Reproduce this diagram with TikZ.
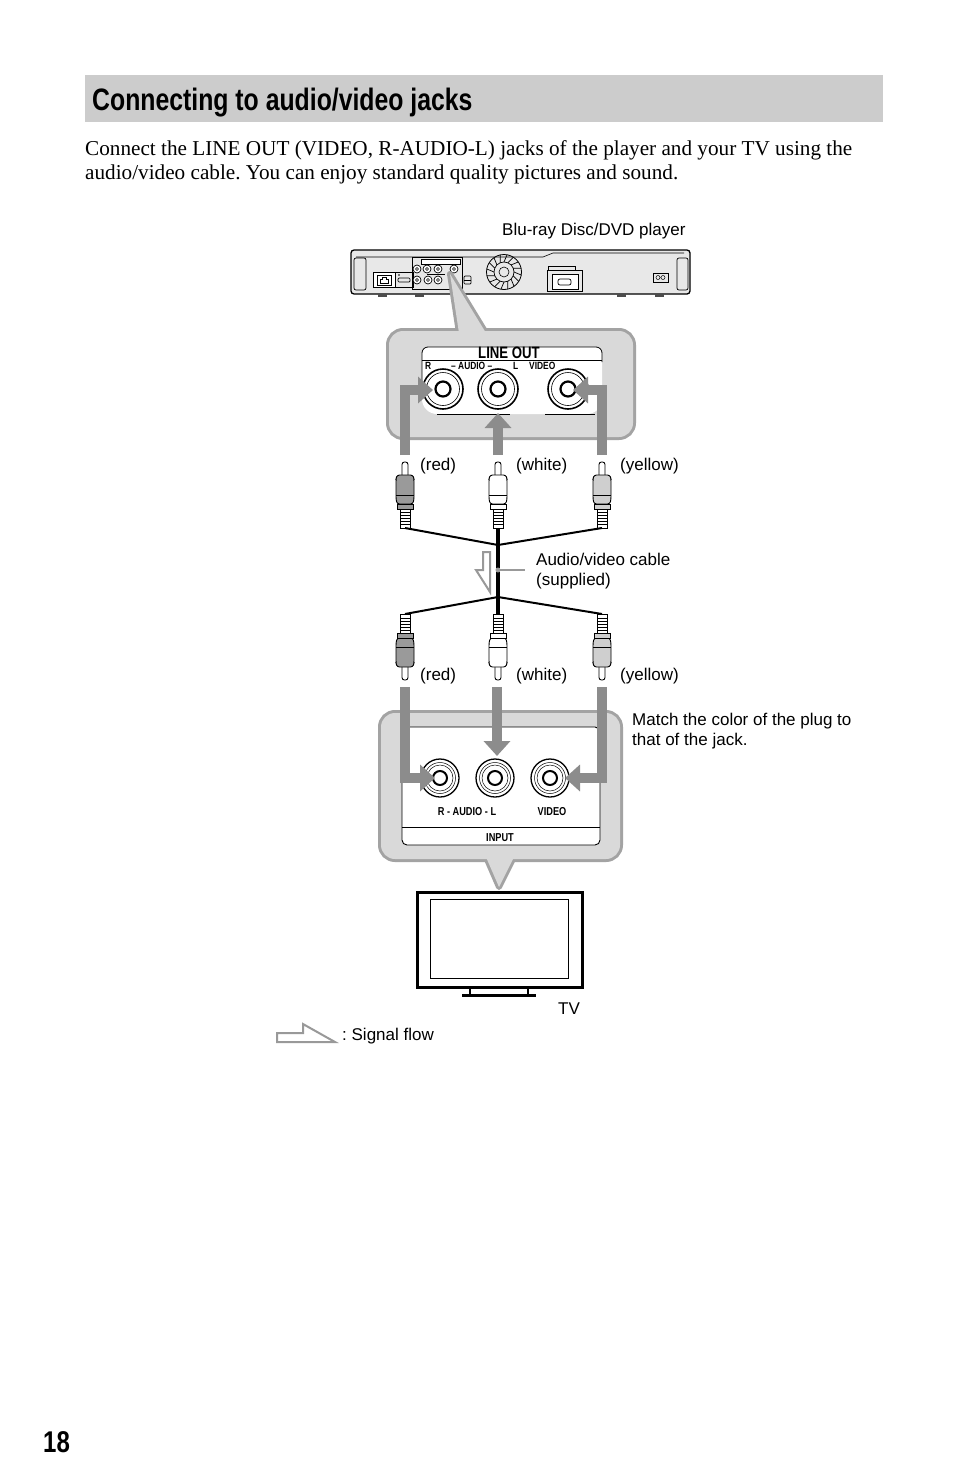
\documentclass[tikz,border=0pt]{standalone}
\usepackage{fontspec}
\setmainfont{Liberation Serif}
\newfontfamily\lab{Liberation Sans}
\newfontfamily\titlefont[FakeStretch=0.8]{Liberation Sans}
\newfontfamily\cond[FakeStretch=0.8]{Liberation Sans}
\usetikzlibrary{arrows.meta}
\definecolor{hdr}{HTML}{CCCCCC}
\definecolor{bubfill}{HTML}{D9D9D9}
\definecolor{bubborder}{HTML}{A3A3A3}
\definecolor{arrowgray}{HTML}{8C8C8C}
\definecolor{sigline}{HTML}{999999}
\definecolor{playerfill}{HTML}{E8E8E8}
\definecolor{redplug}{HTML}{9A9A9A}
\definecolor{yelplug}{HTML}{CFCFCF}
\frenchspacing

\newcommand\rcaplug[4]{%
\begin{scope}[shift={(#1,#2)}, yscale=#4]
 \draw[line width=0.9, fill=white, rounded corners=2.5] (-3,14) -- (-3,0) -- (3,0) -- (3,14);
 \draw[line width=0.9, fill=#3, rounded corners=2.5] (-8,13) -- (8,13) -- (9,17) -- (9,37) -- (8,42) -- (-8,42) -- (-9,37) -- (-9,17) -- cycle;
 \draw[line width=0.6] (-9,33) -- (9,33);
 \draw[line width=0.9, fill=#3] (-8,42) rectangle (8,47);
 \draw[line width=0.9, fill=white] (-5,47) rectangle (5,66);
 \foreach \k in {50,53,...,63} \draw[line width=0.9] (-5,\k) -- (5,\k);
\end{scope}}

\newcommand\outjack[2]{%
 \draw[line width=1.6, fill=white] (#1,#2) circle (20);
 \draw[line width=0.6] (#1,#2) circle (16.5);
 \draw[line width=2.2] (#1,#2) circle (7.5);}

\newcommand\injack[2]{%
 \draw[line width=1.3, fill=white] (#1,#2) circle (19);
 \draw[line width=0.5] (#1,#2) circle (15.5);
 \draw[line width=0.5] (#1,#2) circle (13);
 \draw[line width=2] (#1,#2) circle (7);}

\begin{document}
\begin{tikzpicture}[x=1pt,y=-1pt,
  lbl/.style={anchor=base west, inner sep=0pt, font=\lab\fontsize{17}{20}\selectfont},
  body/.style={anchor=base west, inner sep=0pt, font=\fontsize{21.2}{24}\selectfont},
  panlbl/.style={inner sep=0pt, font=\cond\bfseries\fontsize{11.5}{13}\selectfont},
  smlbl/.style={inner sep=0pt, anchor=base west, font=\cond\bfseries\fontsize{10.5}{12}\selectfont},
  garrow/.style={draw=arrowgray, line width=9.5pt, line join=miter, -{Triangle[width=26pt,length=15pt]}},
  sig/.style={draw=sigline, line width=2pt, fill=white, line join=miter},
  cable/.style={line width=2pt},
  bigcable/.style={line width=4pt}]
\useasboundingbox (0,0) rectangle (954,1483);
\fill[white] (0,0) rectangle (954,1483);

% header
\fill[hdr] (85,75) rectangle (883,122);
\node[anchor=base west, inner sep=0pt, font=\titlefont\bfseries\fontsize{31}{36}\selectfont] (title) at (92,110) {Connecting to audio/video jacks};
\node[body] (p1) at (85,155) {Connect the LINE OUT (VIDEO, R-AUDIO-L) jacks of the player and your TV using the};
\node[body] (p2) at (85,179) {audio/video cable. You can enjoy standard quality pictures and sound.};

% player
\node[lbl] (playerlbl) at (502,235) {Blu-ray Disc/DVD player};
\draw[line width=1.3, fill=playerfill, rounded corners=3] (351,250) rectangle (690,294);
\foreach \fx in {378,415,617,655} \fill[black!70] (\fx,294) rectangle (\fx+9,297);
\draw[line width=0.6] (356,257) -- (543,257) -- (553,253) -- (684,253);
\draw[line width=0.7, rounded corners=2] (354,258) rectangle (366,290);
\draw[line width=0.7, rounded corners=2] (677,258) rectangle (688,290);
% ethernet
\draw[line width=0.8, fill=white] (373,272) rectangle (395,287);
\draw[line width=0.8] (377,275) rectangle (391,285);
\draw[line width=0.7] (380,283) -- (380,279) -- (382,279) -- (382,277) -- (386,277) -- (386,279) -- (388,279) -- (388,283) -- cycle;
% hdmi
\draw[line width=0.8] (395,272) rectangle (413,287);
\draw[line width=0.7, rounded corners=1] (398,278) rectangle (410,282);
\fill (399,275) circle (0.8);
% jack panel
\draw[line width=0.8] (412,257) rectangle (462,289);
\draw[line width=0.6, fill=white] (421,259) rectangle (460,264);
\foreach \jx in {417,427,438,454} {\draw[line width=0.7, fill=white] (\jx,269) circle (4); \draw[line width=0.5] (\jx,269) circle (1.5);}
\foreach \jx in {417,428,438} {\draw[line width=0.7, fill=white] (\jx,280) circle (4); \draw[line width=0.5] (\jx,280) circle (1.5);}
\draw[line width=0.6] (427,274.5) -- (445,274.5);
\draw[line width=0.7, rounded corners=1] (464,276) rectangle (471,284);
\draw[line width=0.5] (464,280) -- (471,280);
% fan
\begin{scope}[shift={(504,272)}]
 \draw[line width=0.8] (0,0) circle (17.5);
 \draw[line width=0.7] (0,0) circle (10);
 \draw[line width=0.6] (0,0) circle (5);
 \foreach \a in {0,22.5,...,340} \draw[line width=0.7] (\a:10) -- (\a+10:17.5);
\end{scope}
% box
\draw[line width=0.7] (548,266) rectangle (575,272);
\draw[line width=0.8, fill=playerfill] (547,270) rectangle (582,291);
\draw[line width=0.7, fill=white] (552,274) rectangle (578,289);
\draw[line width=0.7, rounded corners=2] (558,279) rectangle (571,285);
% right connector
\draw[line width=0.7] (653,273) rectangle (668,282);
\draw[line width=0.5] (658,277.5) circle (2) (663,277.5) circle (2);

% upper bubble
\draw[line width=6pt, draw=bubborder, rounded corners=14pt] (389,331) rectangle (633,437);
\draw[line width=6pt, draw=bubborder, line join=round] (459,333) -- (450,274) -- (486,333) -- cycle;
\fill[bubfill, rounded corners=14pt] (389,331) rectangle (633,437);
\fill[bubfill] (459,333) -- (450,274) -- (486,333) -- cycle;
% LINE OUT panel
\fill[white, rounded corners=6pt] (422,347) rectangle (602,400);
\fill[white, rounded corners=15pt] (422,380) rectangle (602,414);
\draw[line width=0.8, rounded corners=6pt] (422,398) -- (422,347) -- (602,347) -- (602,362);
\draw[line width=0.8] (422,360) -- (602,360);
\draw[line width=0.8] (437,414) -- (510,414);
\draw[line width=0.8] (545,414) -- (595,414);
\node[anchor=base, inner sep=0pt, font=\cond\bfseries\fontsize{16.5}{18}\selectfont] (lineout) at (509,358) {LINE OUT};
\node[smlbl] (loR) at (425,369.5) {R};
\node[smlbl] (loA) at (451,369.5) {– AUDIO –};
\node[smlbl] (loL) at (513,369.5) {L};
\node[smlbl] (loV) at (529,369.5) {VIDEO};
\outjack{443}{389}
\outjack{498}{389}
\outjack{568}{389}

% upper gray arrows
\coordinate (rA) at (405,455);
\coordinate (wA) at (498,455);
\coordinate (yA) at (602,455);
\draw[garrow] (rA) -- (405,390) -- (433,390);
\draw[garrow] (wA) -- (498,413);
\draw[garrow] (yA) -- (602,390) -- (573,390);

% upper plugs
\rcaplug{405}{462}{redplug}{1}
\rcaplug{498}{462}{white}{1}
\rcaplug{602}{462}{yelplug}{1}
\node[lbl] (redU) at (420,470) {(red)};
\node[lbl] (whiteU) at (516,470) {(white)};
\node[lbl] (yelU) at (620,470) {(yellow)};

% cables
\coordinate (rU) at (405,528);
\coordinate (wU) at (498,528);
\coordinate (yU) at (602,528);
\coordinate (jT) at (498,545);
\coordinate (jB) at (498,597);
\coordinate (rL) at (405,614);
\coordinate (wL) at (498,614);
\coordinate (yL) at (602,614);
\draw[cable] (rU) -- (jT) -- (yU);
\draw[cable] (rL) -- (jB) -- (yL);
\draw[bigcable] (wU) -- (wL);

% signal flow on cable
\draw[sig] (490,552) -- (483,552) -- (483,570) -- (476,570) -- (490,592) -- cycle;
\coordinate (cdot) at (498,570);
\coordinate (cend) at (525,570);
\fill[sigline] (cdot) circle (2.5);
\draw[sigline, line width=1.3pt] (cdot) -- (cend);
\node[lbl] (cab1) at (536,565) {Audio/video cable};
\node[lbl] (cab2) at (536,585) {(supplied)};

% lower plugs
\rcaplug{405}{680}{redplug}{-1}
\rcaplug{498}{680}{white}{-1}
\rcaplug{602}{680}{yelplug}{-1}
\node[lbl] (redL) at (420,680) {(red)};
\node[lbl] (whiteL) at (516,680) {(white)};
\node[lbl] (yelL) at (620,680) {(yellow)};

\node[lbl] (match1) at (632,725) {Match the color of the plug to};
\node[lbl] (match2) at (632,745) {that of the jack.};

% lower bubble
\draw[line width=6pt, draw=bubborder, rounded corners=14pt] (381,713) rectangle (620,859);
\draw[line width=6pt, draw=bubborder, line join=round] (486,857) -- (499,887) -- (514,857) -- cycle;
\fill[bubfill, rounded corners=14pt] (381,713) rectangle (620,859);
\fill[bubfill] (486,857) -- (499,887) -- (514,857) -- cycle;
% INPUT panel
\draw[line width=0.9, fill=white, rounded corners=5pt] (402,727) -- (402,845) -- (600,845) -- (600,727) [sharp corners] -- cycle;
\draw[line width=0.8] (402,827) -- (600,827);
\node[panlbl] (inAud) at (467,812) {R - AUDIO - L};
\node[panlbl] (inVid) at (552,812) {VIDEO};
\node[panlbl] (inInp) at (500,838) {INPUT};
\injack{440}{778}
\injack{495}{778}
\injack{550}{778}

% lower gray arrows
\coordinate (rB) at (405,687);
\coordinate (wB) at (497,687);
\coordinate (yB) at (602,687);
\draw[garrow] (rB) -- (405,778) -- (435,778);
\draw[garrow] (wB) -- (497,756);
\draw[garrow] (yB) -- (602,778) -- (565,778);

% TV
\draw[line width=3pt, fill=white] (417,892) rectangle (582,987);
\draw[line width=1pt] (430,899) rectangle (568,978);
\draw[line width=1.5pt] (470,987) rectangle (528,995);
\draw[line width=3pt] (462,995) -- (536,995);
\node[lbl] (tvlbl) at (558,1014) {TV};

% legend
\draw[sig] (277,1042) -- (277,1033) -- (303,1033) -- (303,1024) -- (335,1042) -- cycle;
\node[lbl] (legend) at (342,1040) {: Signal flow};

% page number
\node[anchor=base west, inner sep=0pt, font=\titlefont\bfseries\fontsize{30}{32}\selectfont] (page) at (43,1452) {18};
\end{tikzpicture}
\end{document}
